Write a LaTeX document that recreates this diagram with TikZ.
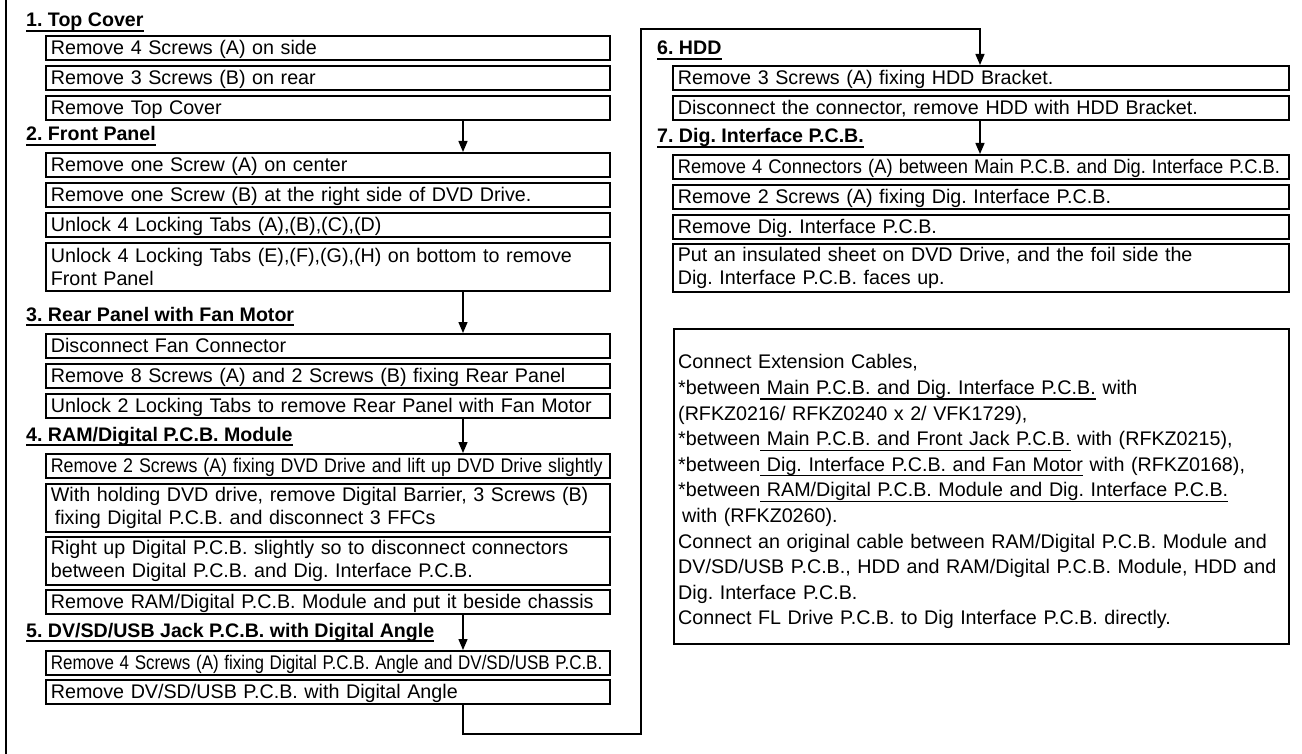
\documentclass[tikz,border=0pt]{standalone}
\usepackage{fontspec}
\usepackage{graphicx}
\setmainfont{Liberation Sans}
\usetikzlibrary{arrows.meta}
\frenchspacing
\newcommand{\bodyf}{\fontsize{19.7pt}{23.5pt}\selectfont\frenchspacing}
\newcommand{\headf}{\fontsize{19.6pt}{23pt}\bfseries\selectfont\frenchspacing}
\newcommand{\notef}{\fontsize{19.7pt}{25.6pt}\selectfont\frenchspacing}
\newcommand{\ulx}[1]{\setbox0=\hbox{#1}\leavevmode\rlap{\rule[-5pt]{\wd0}{1.2pt}}\box0\relax}
\newcommand{\squeeze}[2]{\scalebox{#1}[1]{#2}}
\begin{document}
\begin{tikzpicture}[x=1pt,y=-1pt,
  lbox/.style={draw, line width=1.7pt, anchor=north west, inner xsep=5pt, inner ysep=0pt,
    text width=554pt, align=left, minimum height=24pt, font=\bodyf},
  rbox/.style={lbox, text width=606pt},
  single/.style={text height=14pt, text depth=0pt},
  twoline/.style={minimum height=48pt},
  head/.style={anchor=base west, inner sep=0pt, font=\headf},
  ulline/.style={line width=1.6pt},
  flow/.style={line width=1.4pt},
  flowarrow/.style={flow, -{Triangle[length=11pt,width=9pt]}},
  notebox/.style={draw, line width=1.7pt, anchor=north west, minimum width=615pt, minimum height=315pt, inner sep=0pt},
  notetext/.style={anchor=north west, inner sep=0pt, text width=612pt, align=left, font=\notef}
]
\fill[white] (0,0) rectangle (1302,754);
\useasboundingbox (0,0) rectangle (1302,754);

% left frame line
\coordinate (ft) at (6,0);
\coordinate (fb) at (6,754);
\draw[line width=1.6pt] (ft) -- (fb);

% ---------- headings ----------
\node[head] (h1) at (26,27) {1. Top Cover};
\node[head] (h2) at (26,141) {2. Front Panel};
\node[head] (h3) at (26,321) {3. Rear Panel with Fan Motor};
\node[head] (h4) at (26,441) {4. RAM/Digital P.C.B. Module};
\node[head] (h5) at (26,637) {5. DV/SD/USB Jack P.C.B. with Digital Angle};
\node[head] (h6) at (657,55) {6. HDD};
\node[head] (h7) at (657,143) {7. Dig. Interface P.C.B.};
\foreach \h in {h1,h2,h3,h4,h5,h6,h7}
  \draw[ulline] ([yshift=-4pt]\h.base west) -- ([yshift=-4pt]\h.base east);

% ---------- left column boxes ----------
\node[lbox,single] (b1) at (45,35) {Remove 4 Screws (A) on side};
\node[lbox,single] (b2) at (45,65) {Remove 3 Screws (B) on rear};
\node[lbox,single] (b3) at (45,95) {Remove Top Cover};
\node[lbox,single] (b4) at (45,152) {Remove one Screw (A) on center};
\node[lbox,single] (b5) at (45,182) {Remove one Screw (B) at the right side of DVD Drive.};
\node[lbox,single] (b6) at (45,212) {Unlock 4 Locking Tabs (A),(B),(C),(D)};
\node[lbox,twoline] (b7) at (45,242) {Unlock 4 Locking Tabs (E),(F),(G),(H) on bottom to remove\\Front Panel};
\node[lbox,single] (b8) at (45,333) {Disconnect Fan Connector};
\node[lbox,single] (b9) at (45,363) {Remove 8 Screws (A) and 2 Screws (B) fixing Rear Panel};
\node[lbox,single] (b10) at (45,393) {Unlock 2 Locking Tabs to remove Rear Panel with Fan Motor};
\node[lbox,single] (b11) at (45,453) {\squeeze{0.905}{Remove 2 Screws (A) fixing DVD Drive and lift up DVD Drive slightly}};
\node[lbox,twoline] (b12) at (45,483) {With holding DVD drive, remove Digital Barrier, 3 Screws (B)\\\hspace*{4pt}fixing Digital P.C.B. and disconnect 3 FFCs};
\node[lbox,twoline] (b13) at (45,536) {Right up Digital P.C.B. slightly so to disconnect connectors\\between Digital P.C.B. and Dig. Interface P.C.B.};
\node[lbox,single] (b14) at (45,589) {Remove RAM/Digital P.C.B. Module and put it beside chassis};
\node[lbox,single] (b15) at (45,650) {\squeeze{0.862}{Remove 4 Screws (A) fixing Digital P.C.B. Angle and DV/SD/USB P.C.B.}};
\node[lbox,single] (b16) at (45,679) {Remove DV/SD/USB P.C.B. with Digital Angle};

% ---------- right column boxes ----------
\node[rbox,single] (r1) at (672,65) {Remove 3 Screws (A) fixing HDD Bracket.};
\node[rbox,single] (r2) at (672,95) {Disconnect the connector, remove HDD with HDD Bracket.};
\node[rbox,single] (r3) at (672,154) {\squeeze{0.93}{Remove 4 Connectors (A) between Main P.C.B. and Dig. Interface P.C.B.}};
\node[rbox,single] (r4) at (672,184) {Remove 2 Screws (A) fixing Dig. Interface P.C.B.};
\node[rbox,single] (r5) at (672,214) {Remove Dig. Interface P.C.B.};
\node[rbox,twoline] (r6) at (672,243) {Put an insulated sheet on DVD Drive, and the foil side the\\Dig. Interface P.C.B. faces up.};

% ---------- notes ----------
\node[notebox] (notes) at (673,328) {};
\node[notetext] (nt) at (678,354.5) {Connect Extension Cables,\\
{*}between\ulx{ Main P.C.B. and Dig. Interface P.C.B.} with\\
(RFKZ0216/ RFKZ0240 x 2/ VFK1729),\\
{*}between\ulx{ Main P.C.B. and Front Jack P.C.B.} with (RFKZ0215),\\
{*}between\ulx{ Dig. Interface P.C.B. and Fan Motor} with (RFKZ0168),\\
{*}between\ulx{ RAM/Digital P.C.B. Module and Dig. Interface P.C.B.}\\
\hspace*{4pt}with (RFKZ0260).\\
Connect an original cable between RAM/Digital P.C.B. Module and\\
DV/SD/USB P.C.B., HDD and RAM/Digital P.C.B. Module, HDD and\\
Dig. Interface P.C.B.\\
Connect FL Drive P.C.B. to Dig Interface P.C.B. directly.};

% ---------- connectors ----------
\coordinate (ax) at (463,0);
\coordinate (bx) at (980,0);
\draw[flowarrow] (b3.south -| ax) -- (b4.north -| ax);
\draw[flowarrow] (b7.south -| ax) -- (b8.north -| ax);
\draw[flowarrow] (b10.south -| ax) -- (b11.north -| ax);
\draw[flowarrow] (b14.south -| ax) -- (b15.north -| ax);
\draw[flowarrow] (r2.south -| bx) -- (r3.north -| bx);

\coordinate (c1) at (463,734);
\coordinate (c2) at (641,734);
\coordinate (c3) at (641,29);
\coordinate (c4) at (980,29);
\draw[flowarrow] (b16.south -| c1) -- (c1) -- (c2) -- (c3) -- (c4) -- (r1.north -| c4);
\end{tikzpicture}
\end{document}
